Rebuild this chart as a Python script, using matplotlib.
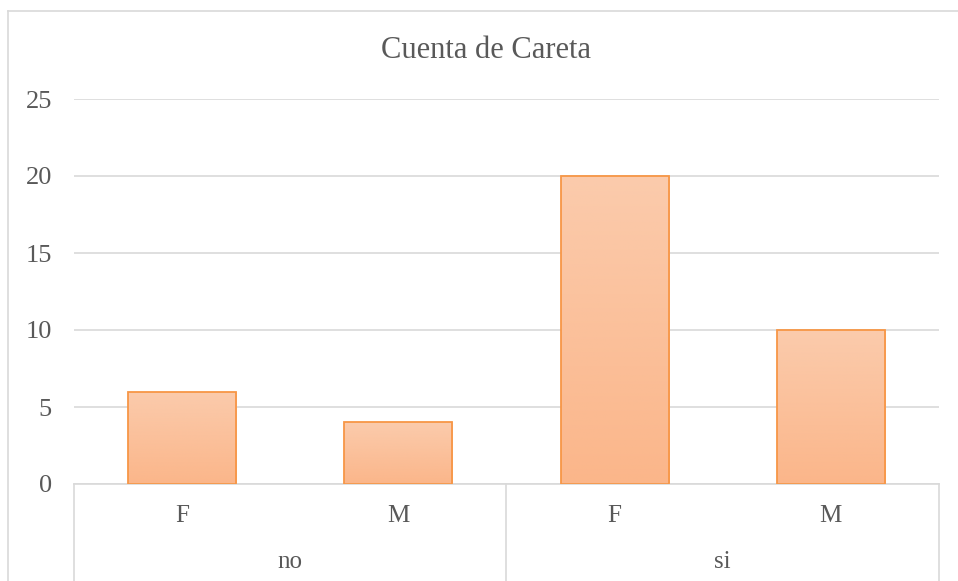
import matplotlib.pyplot as plt
import numpy as np
from matplotlib.colors import LinearSegmentedColormap

# data
groups = ['no', 'si']
sexes = ['F', 'M']
counts = [6, 4, 20, 10]
title = 'Cuenta de Careta'

plt.rcParams['font.family'] = ['Liberation Serif', 'DejaVu Serif']

text_color = '#595959'
grid_color = '#D9D9D9'
edge_color = '#F79646'

fig = plt.figure(figsize=(9.58, 5.81), dpi=100)
ax = fig.add_axes([74 / 958, (581 - 484) / 581, 865 / 958, (484 - 99) / 581])

# outer chart border (top and left only visible)
fig.add_artist(plt.Line2D([8 / 958, 8 / 958], [0, 1 - 11 / 581], color=grid_color, lw=1.2))
fig.add_artist(plt.Line2D([8 / 958, 1], [1 - 11 / 581, 1 - 11 / 581], color=grid_color, lw=1.2))

x = np.arange(len(counts))
bars = ax.bar(x, counts, width=0.5, color='none', edgecolor=edge_color, linewidth=1.3, zorder=3)

cmap = LinearSegmentedColormap.from_list('peach', ['#FBB68A', '#FBCBAC'])
grad = np.linspace(0, 1, 256).reshape(-1, 1)
for b in bars:
    x0, w, h = b.get_x(), b.get_width(), b.get_height()
    im = ax.imshow(grad, extent=[x0, x0 + w, 0, h], origin='lower', aspect='auto',
                   cmap=cmap, zorder=2)
    im.set_clip_path(b)

ax.set_xlim(-0.5, len(counts) - 0.5)
ax.set_ylim(0, 25)
ax.set_yticks(range(0, 26, 5))
ax.yaxis.grid(True, color=grid_color, lw=1.2, zorder=0)
ax.set_axisbelow(True)
for s in ['top', 'right', 'left']:
    ax.spines[s].set_visible(False)
ax.spines['bottom'].set_color(grid_color)
ax.spines['bottom'].set_linewidth(1.2)
ax.tick_params(axis='y', length=0, pad=16, labelsize=19, labelcolor=text_color)
ax.tick_params(axis='x', length=0, labelbottom=False)

# two level category axis
trans = ax.get_xaxis_transform()
for i, c in enumerate(counts):
    ax.text(i, -38 / 385, sexes[i % 2], transform=trans, ha='center', va='baseline',
            fontsize=18, color=text_color)
for g, name in enumerate(groups):
    ax.text(2 * g + 0.5, -84 / 385, name, transform=trans, ha='center', va='baseline',
            fontsize=18, color=text_color)
for xv in [-0.5, 1.5, 3.5]:
    ax.plot([xv, xv], [0, -100 / 385], transform=trans, color=grid_color, lw=1.2,
            clip_on=False)

fig.text(486 / 958, 1 - 58 / 581, title, ha='center', va='baseline', fontsize=22,
         color=text_color)

fig.savefig('out.png', dpi=100)
